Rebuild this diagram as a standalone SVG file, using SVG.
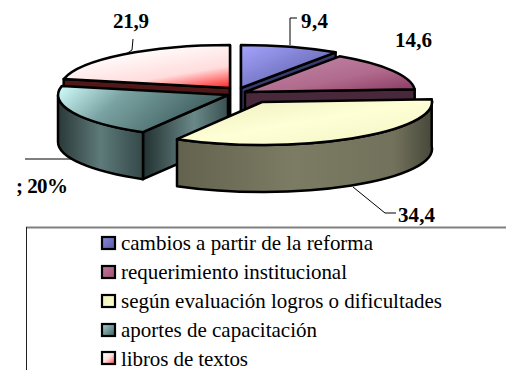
<svg xmlns="http://www.w3.org/2000/svg" width="506" height="370" viewBox="0 0 506 370">
<style>
.edge{stroke:#000;stroke-width:2.5;stroke-linejoin:round}
.lbl{font-family:"Liberation Serif","Times New Roman",Times,serif;font-weight:bold;font-size:21px;fill:#000}
.leg{font-family:"Liberation Serif","Times New Roman",Times,serif;font-size:21px;fill:#000}
.lead{fill:none;stroke:#000;stroke-width:1}
.mk{stroke:#000;stroke-width:2.2}
</style>
<defs>
<linearGradient id="gBlueTop" x1="0" y1="0" x2="1" y2="1"><stop offset="0" stop-color="#a4a4ff"/><stop offset="1" stop-color="#54549a"/></linearGradient>
<linearGradient id="gPinkTop" x1="0" y1="0" x2="1" y2="1"><stop offset="0" stop-color="#c48cac"/><stop offset="0.6" stop-color="#b06a8c"/><stop offset="1" stop-color="#883860"/></linearGradient>
<linearGradient id="gYelTop" x1="0" y1="0" x2="1" y2="1"><stop offset="0" stop-color="#ececbc"/><stop offset="0.5" stop-color="#ffffd6"/><stop offset="1" stop-color="#f2f2c4"/></linearGradient>
<linearGradient id="gYelSide" x1="0" y1="0" x2="1" y2="0"><stop offset="0" stop-color="#62624e"/><stop offset="0.45" stop-color="#7c7c64"/><stop offset="0.85" stop-color="#72725c"/><stop offset="1" stop-color="#48483a"/></linearGradient>
<linearGradient id="gTealTop" x1="0" y1="0" x2="1" y2="0.3"><stop offset="0" stop-color="#d4ffff"/><stop offset="0.4" stop-color="#7aa2a2"/><stop offset="1" stop-color="#3c5a5a"/></linearGradient>
<linearGradient id="gTealSide" x1="0" y1="0" x2="1" y2="0"><stop offset="0" stop-color="#2a3838"/><stop offset="0.5" stop-color="#5e7a7a"/><stop offset="1" stop-color="#354848"/></linearGradient>
<linearGradient id="gTealFace" x1="0" y1="0" x2="1" y2="0"><stop offset="0" stop-color="#223030"/><stop offset="0.6" stop-color="#6a8888"/><stop offset="1" stop-color="#3a5050"/></linearGradient>
<linearGradient id="gRedTop" x1="0.4" y1="0.1" x2="1" y2="1"><stop offset="0" stop-color="#ffffff"/><stop offset="0.6" stop-color="#ffdcdc"/><stop offset="1" stop-color="#ff2020"/></linearGradient>
<linearGradient id="mBlue" x1="0" y1="0" x2="1" y2="1"><stop offset="0" stop-color="#8a8ae0"/><stop offset="1" stop-color="#5a5aa0"/></linearGradient>
<linearGradient id="mPink" x1="0" y1="0" x2="1" y2="1"><stop offset="0" stop-color="#c07898"/><stop offset="1" stop-color="#a05078"/></linearGradient>
<linearGradient id="mYel" x1="0" y1="0" x2="1" y2="1"><stop offset="0" stop-color="#f0f0b8"/><stop offset="1" stop-color="#ffffd0"/></linearGradient>
<linearGradient id="mTeal" x1="0" y1="0" x2="1" y2="1"><stop offset="0" stop-color="#a8d0d0"/><stop offset="1" stop-color="#406060"/></linearGradient>
<linearGradient id="mRed" x1="0" y1="0" x2="1" y2="1"><stop offset="0" stop-color="#ffffff"/><stop offset="0.5" stop-color="#ffe0e0"/><stop offset="1" stop-color="#ff4040"/></linearGradient>
</defs>
<rect width="506" height="370" fill="#fff"/>

<g id="slice-libros">
<path class="edge" fill="#501818" d="M230,88 L63.7,79.1 L63.7,126.1 L230,135 Z"/>
<path class="edge" fill="none" d="M230,45 L230,135"/>
<path class="edge" fill="url(#gRedTop)" d="M230,88 L63.7,79.1 A170 43 0 0 1 230,45 Z"/>
</g>
<g id="slice-cambios">
<path class="edge" fill="#3a3a6c" d="M241,88 L335.6,52.3 L335.6,99.3 L241,135 Z"/>
<path class="edge" fill="none" d="M241,45 L241,135"/>
<path class="edge" fill="url(#gBlueTop)" d="M241,88 L241,45 A170 43 0 0 1 335.6,52.3 Z"/>
</g>
<g id="slice-requerimiento">
<path class="edge" fill="#48283a" d="M245,92 L414.7,89.3 L414.7,136.3 L245,139 Z"/>
<path class="edge" fill="url(#gPinkTop)" d="M245,92 L339.6,56.3 A170 43 0 0 1 414.7,89.3 Z"/>
</g>
<g id="slice-aportes">
<path class="edge" fill="url(#gTealFace)" d="M228,95 L143,132.2 L143,179.2 L228,142 Z"/>
<path class="edge" fill="url(#gTealSide)" d="M143,132.2 A170 43 0 0 1 58,95 L58,142 A170 43 0 0 0 143,179.2 Z"/>
<path class="edge" fill="url(#gTealTop)" d="M228,95 L143,132.2 A170 43 0 0 1 61.7,86.1 Z"/>
</g>
<g id="slice-segun">
<path class="edge" fill="url(#gYelSide)" d="M431.7,99.3 A170 43 0 0 1 177,139.2 L177,186.2 A170 43 0 0 0 431.7,146.3 Z"/>
<path class="edge" fill="url(#gYelTop)" d="M262,102 L431.7,99.3 A170 43 0 0 1 177,139.2 Z"/>
</g>

<g id="connectors">
<path class="lead" d="M126,54 L132,50 L133,39"/>
<path class="lead" d="M290,45 L290,18 L297,18"/>
<path class="lead" d="M353,187 L385,213 L396,213"/>
<path class="lead" d="M25,159 L72,159"/>
</g>

<g id="labels">
<text class="lbl" x="113" y="28" textLength="36" lengthAdjust="spacing">21,9</text>
<text class="lbl" x="301" y="28" textLength="27" lengthAdjust="spacing">9,4</text>
<text class="lbl" x="395" y="47" textLength="37" lengthAdjust="spacing">14,6</text>
<text class="lbl" x="398" y="222" textLength="37" lengthAdjust="spacing">34,4</text>
<text class="lbl" x="16" y="193" textLength="52" lengthAdjust="spacing">; 20%</text>
</g>

<g id="legend">
<path d="M26,227.5 L506,227.5" stroke="#808080" stroke-width="2" fill="none"/>
<path d="M26.5,227 L26.5,370" stroke="#202020" stroke-width="1" fill="none"/>
<rect class="mk" x="102" y="237" width="13" height="12" fill="url(#mBlue)"/>
<text class="leg" x="121" y="250" textLength="252" lengthAdjust="spacing">cambios a partir de la reforma</text>
<rect class="mk" x="102" y="266" width="13" height="12" fill="url(#mPink)"/>
<text class="leg" x="121" y="279" textLength="226" lengthAdjust="spacing">requerimiento institucional</text>
<rect class="mk" x="102" y="295" width="13" height="12" fill="url(#mYel)"/>
<text class="leg" x="121" y="308" textLength="321" lengthAdjust="spacing">según evaluación logros o dificultades</text>
<rect class="mk" x="102" y="324" width="13" height="12" fill="url(#mTeal)"/>
<text class="leg" x="121" y="337" textLength="196" lengthAdjust="spacing">aportes de capacitación</text>
<rect class="mk" x="102" y="352" width="13" height="12" fill="url(#mRed)"/>
<text class="leg" x="121" y="366" textLength="127" lengthAdjust="spacing">libros de textos</text>
</g>
</svg>
